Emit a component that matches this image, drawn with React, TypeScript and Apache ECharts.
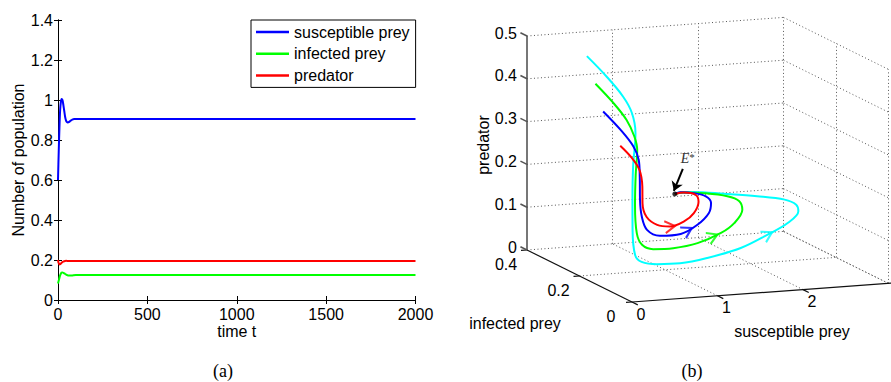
import React, { useEffect, useRef } from "react";
import * as echarts from "echarts";

const W = 891;
const H = 382;
const FONT = "'Liberation Sans', Arial, Helvetica, sans-serif";
const SERIF = "'Liberation Serif', 'Times New Roman', serif";

// ---------- Panel (a): time series ----------
const T_SUS = [0, 4, 8, 12, 16, 20, 25, 30, 35, 40, 45, 50, 55, 60, 70, 80, 90, 100, 150, 2000];
const SUS = [0.6, 0.74, 0.86, 0.95, 0.99, 1.005, 1.0, 0.975, 0.945, 0.915, 0.897, 0.89, 0.888, 0.889, 0.896, 0.902, 0.905, 0.905, 0.905, 0.905];
const T_INF = [0, 5, 10, 15, 20, 25, 30, 40, 50, 60, 70, 80, 100, 2000];
const INF = [0.083, 0.1, 0.118, 0.13, 0.137, 0.138, 0.136, 0.13, 0.125, 0.122, 0.122, 0.123, 0.125, 0.125];
const T_PRED = [0, 3, 8, 12, 18, 25, 35, 45, 60, 2000];
const PRED = [0.2, 0.186, 0.178, 0.179, 0.184, 0.19, 0.194, 0.196, 0.195, 0.195];
const NAMES_A = ["susceptible prey", "infected prey", "predator"];
const COLORS_A = ["#0000ff", "#00ff00", "#ff0000"];
const X_A = { min: 0, max: 2000, interval: 500 };
const Y_A = { min: 0, max: 1.4, interval: 0.2 };

// ---------- Panel (b): 3D phase portrait (S, I, P) ----------
const S_RANGE = [0, 3];
const I_RANGE = [0, 0.4];
const P_RANGE = [0, 0.5];
const S_TICKS = [0, 1, 2];
const I_TICKS = [0, 0.2, 0.4];
const P_TICKS = [0, 0.1, 0.2, 0.3, 0.4, 0.5];
const S_GRID = [1, 2, 3];
const I_GRID = [0, 0.2];

const E_STAR = [0.9, 0.13, 0.2];

const CYAN_S = [0.24, 0.38, 0.48, 0.49, 0.44, 0.32, 0.22, 0.16, 0.16, 0.22, 0.4, 0.67, 1.0, 1.41, 1.74, 1.99, 2.13, 2.12, 2.0, 1.71, 1.35, 1.05, 0.92, 0.9];
const CYAN_I = [0.25, 0.22, 0.19, 0.16, 0.13, 0.1, 0.07, 0.05, 0.04, 0.035, 0.035, 0.035, 0.04, 0.045, 0.05, 0.055, 0.06, 0.065, 0.07, 0.08, 0.09, 0.105, 0.115, 0.13];
const CYAN_P = [0.495, 0.454, 0.415, 0.386, 0.349, 0.281, 0.214, 0.151, 0.095, 0.08, 0.072, 0.07, 0.076, 0.092, 0.117, 0.139, 0.163, 0.177, 0.189, 0.198, 0.206, 0.21, 0.208, 0.2];

const GREEN_S = [0.34, 0.46, 0.52, 0.52, 0.46, 0.35, 0.25, 0.21, 0.24, 0.37, 0.62, 0.92, 1.21, 1.38, 1.49, 1.47, 1.36, 1.13, 0.94, 0.9];
const GREEN_I = [0.25, 0.22, 0.19, 0.16, 0.13, 0.1, 0.07, 0.05, 0.04, 0.04, 0.045, 0.05, 0.055, 0.06, 0.065, 0.07, 0.08, 0.095, 0.11, 0.13];
const GREEN_P = [0.429, 0.391, 0.36, 0.33, 0.309, 0.261, 0.202, 0.142, 0.118, 0.106, 0.103, 0.109, 0.127, 0.146, 0.174, 0.193, 0.203, 0.209, 0.209, 0.2];

const BLUE_S = [0.43, 0.54, 0.6, 0.57, 0.49, 0.37, 0.33, 0.36, 0.51, 0.77, 0.98, 1.13, 1.17, 1.14, 1.03, 0.92, 0.9];
const BLUE_I = [0.25, 0.22, 0.19, 0.16, 0.13, 0.09, 0.07, 0.06, 0.06, 0.065, 0.07, 0.075, 0.08, 0.09, 0.1, 0.115, 0.13];
const BLUE_P = [0.363, 0.328, 0.297, 0.275, 0.246, 0.206, 0.173, 0.145, 0.129, 0.128, 0.145, 0.169, 0.19, 0.203, 0.209, 0.208, 0.2];

const RED_S = [0.63, 0.645, 0.61, 0.52, 0.43, 0.43, 0.54, 0.69, 0.87, 1.0, 1.07, 1.05, 0.96, 0.9];
const RED_I = [0.25, 0.21, 0.17, 0.13, 0.1, 0.085, 0.08, 0.08, 0.085, 0.09, 0.095, 0.1, 0.115, 0.13];
const RED_P = [0.28, 0.263, 0.248, 0.223, 0.194, 0.167, 0.148, 0.142, 0.15, 0.166, 0.19, 0.205, 0.207, 0.2];

// position (along the trajectory, in point indices) of each direction arrow
const ARROW_AT = { cyan: 14, green: 11.65, blue: 9.4, red: 7 };

// ---------- layout of the 3D view (screen vectors of the axes) ----------
const ORIGIN = [632, 302];
const S_VEC = [85.5, -6.2];
const I_VEC = [-262.5, -130];
const P_VEC = [0, -428];

const proj = (s: number, i: number, p: number): [number, number] => [
  ORIGIN[0] + s * S_VEC[0] + i * I_VEC[0] + p * P_VEC[0],
  ORIGIN[1] + s * S_VEC[1] + i * I_VEC[1] + p * P_VEC[1],
];

type P3 = [number, number, number];

function buildOption() {
  const Smax = S_RANGE[1];
  const Imax = I_RANGE[1];
  const Pmax = P_RANGE[1];

  const dotted: P3[][] = [];
  P_TICKS.forEach((p) => {
    dotted.push([[0, Imax, p], [Smax, Imax, p]]);
    dotted.push([[Smax, Imax, p], [Smax, 0, p]]);
  });
  S_GRID.forEach((s) => {
    dotted.push([[s, Imax, 0], [s, Imax, Pmax]]);
    dotted.push([[s, 0, 0], [s, Imax, 0]]);
  });
  I_GRID.forEach((i) => dotted.push([[Smax, i, 0], [Smax, i, Pmax]]));
  I_GRID.filter((i) => i > 0).forEach((i) => dotted.push([[0, i, 0], [Smax, i, 0]]));

  const solid: P3[][] = [
    [[0, 0, 0], [0, Imax, 0]],
    [[0, 0, 0], [Smax + 0.03, 0, 0]],
  ];
  I_TICKS.forEach((i) => solid.push([[0, i, 0], [-0.07, i, 0]]));
  S_TICKS.forEach((s) => solid.push([[s, 0, 0], [s, -0.022, 0]]));
  const zAxis: P3[][] = [[[0, Imax, 0], [0, Imax, Pmax]]];
  P_TICKS.forEach((p) => zAxis.push([[0, Imax, p], [0, Imax + 0.025, p]]));

  const toLines = (segs: P3[][]) =>
    segs.map((seg) => ({ coords: seg.map((q) => proj(q[0], q[1], q[2])) }));

  const trajs = [
    { name: "traj cyan", color: "#00ffff", S: CYAN_S, I: CYAN_I, P: CYAN_P, arrow: ARROW_AT.cyan },
    { name: "traj green", color: "#00ff00", S: GREEN_S, I: GREEN_I, P: GREEN_P, arrow: ARROW_AT.green },
    { name: "traj blue", color: "#0000ff", S: BLUE_S, I: BLUE_I, P: BLUE_P, arrow: ARROW_AT.blue },
    { name: "traj red", color: "#ff0000", S: RED_S, I: RED_I, P: RED_P, arrow: ARROW_AT.red },
  ];

  const trajSeries: any[] = [];
  const arrowData: any[] = [];
  trajs.forEach((t) => {
    const pts = t.S.map((s, k) => proj(s, t.I[k], t.P[k]));
    trajSeries.push({
      name: t.name,
      type: "line",
      xAxisIndex: 2,
      yAxisIndex: 2,
      data: pts,
      symbol: "none",
      smooth: 0.35,
      lineStyle: { color: t.color, width: 2 },
      silent: true,
      z: 3,
    });
    const i0 = Math.floor(t.arrow);
    const f = t.arrow - i0;
    const a = pts[i0];
    const b = pts[Math.min(i0 + 1, pts.length - 1)];
    const pos = [a[0] + (b[0] - a[0]) * f, a[1] + (b[1] - a[1]) * f];
    const from = f > 0 ? a : pts[Math.max(i0 - 1, 0)];
    const dx = b[0] - from[0];
    const dy = b[1] - from[1];
    const ang = (-Math.atan2(dy, dx) * 180) / Math.PI;
    arrowData.push({
      value: pos,
      symbolRotate: ang,
      itemStyle: { color: "rgba(0,0,0,0)", borderColor: t.color, borderWidth: 2 },
    });
  });

  const E = proj(E_STAR[0], E_STAR[1], E_STAR[2]);

  const graphics: any[] = [];
  const txt = (text: string, x: number, y: number, align: string, extra: any = {}) =>
    graphics.push({
      type: "text",
      x,
      y,
      silent: true,
      style: {
        text,
        fontSize: 16,
        fontFamily: FONT,
        fill: "#000",
        align,
        verticalAlign: "middle",
        ...extra,
      },
    });

  P_TICKS.forEach((p) => {
    const q = proj(0, Imax, p);
    txt(String(p), q[0] - 10, q[1] - 3, "right");
  });
  I_TICKS.forEach((i) => {
    const q = proj(0, i, 0);
    txt(String(i), q[0] - 21, q[1] + 14, "center");
  });
  S_TICKS.forEach((s) => {
    const q = proj(s, 0, 0);
    txt(String(s), q[0] + 9, q[1] + 12, "center");
  });
  txt("infected prey", 515, 323, "center");
  txt("susceptible prey", 792, 331, "center");
  graphics.push({
    type: "text",
    x: 483,
    y: 145,
    rotation: Math.PI / 2,
    silent: true,
    style: { text: "predator", fontSize: 16, fontFamily: FONT, fill: "#000", align: "center", verticalAlign: "middle" },
  });
  graphics.push({
    type: "text",
    x: E[0] + 6,
    y: E[1] - 35,
    silent: true,
    style: {
      text: "{e|E}{s|*}",
      align: "left",
      verticalAlign: "middle",
      rich: {
        e: { fontSize: 14, fontStyle: "italic", fontFamily: SERIF, fill: "#333" },
        s: { fontSize: 11, fontFamily: SERIF, fill: "#333", verticalAlign: "top", padding: [0, 0, 4, 0] },
      },
    },
  });
  txt("(a)", 223, 371, "center", { fontFamily: SERIF, fontSize: 18 });
  txt("(b)", 692, 371, "center", { fontFamily: SERIF, fontSize: 18 });

  const axisCommon = {
    axisLine: { show: true, lineStyle: { color: "#000", width: 1 } },
    axisTick: { show: true, inside: true, length: 4, lineStyle: { color: "#000" } },
    splitLine: { show: false },
  };
  const labelStyle = { color: "#000", fontSize: 16, fontFamily: FONT };

  return {
    animation: false,
    backgroundColor: "#fff",
    grid: [
      { left: 58, top: 20, width: 357.5, height: 280, outerBoundsMode: "none" },
      { left: 0, top: 0, width: W, height: H, outerBoundsMode: "none" },
    ],
    xAxis: [
      {
        gridIndex: 0,
        type: "value",
        ...X_A,
        ...axisCommon,
        axisLabel: { ...labelStyle, margin: 6, formatter: (v: number) => String(v) },
        name: "time t",
        nameLocation: "middle",
        nameGap: 23,
        nameMoveOverlap: false,
        nameTextStyle: labelStyle,
      },
      {
        gridIndex: 0,
        type: "value",
        position: "top",
        ...X_A,
        ...axisCommon,
        axisLabel: { show: false },
      },
      { gridIndex: 1, type: "value", min: 0, max: W, show: false },
    ],
    yAxis: [
      {
        gridIndex: 0,
        type: "value",
        ...Y_A,
        ...axisCommon,
        axisLabel: { ...labelStyle, margin: 5, formatter: (v: number) => String(v) },
        name: "Number of population",
        nameLocation: "middle",
        nameGap: 32,
        nameMoveOverlap: false,
        nameTextStyle: labelStyle,
      },
      {
        gridIndex: 0,
        type: "value",
        position: "right",
        ...Y_A,
        ...axisCommon,
        axisLabel: { show: false },
      },
      { gridIndex: 1, type: "value", min: 0, max: H, inverse: true, show: false },
    ],
    legend: {
      data: NAMES_A,
      orient: "vertical",
      left: 251,
      top: 20,
      icon: "rect",
      itemWidth: 33,
      itemHeight: 2.5,
      itemGap: 5.7,
      padding: [4, 6, 4, 5],
      borderColor: "#000",
      borderWidth: 1,
      borderRadius: 0,
      backgroundColor: "#fff",
      selectedMode: false,
      textStyle: { color: "#000", fontSize: 16, fontFamily: FONT, lineHeight: 16 },
    },
    graphic: graphics,
    series: [
      {
        name: NAMES_A[0],
        type: "line",
        xAxisIndex: 0,
        yAxisIndex: 0,
        data: T_SUS.map((t, k) => [t, SUS[k]]),
        symbol: "none",
        smooth: 0.3,
        lineStyle: { color: COLORS_A[0], width: 2 },
        itemStyle: { color: COLORS_A[0] },
        z: 3,
      },
      {
        name: NAMES_A[1],
        type: "line",
        xAxisIndex: 0,
        yAxisIndex: 0,
        data: T_INF.map((t, k) => [t, INF[k]]),
        symbol: "none",
        smooth: 0.3,
        lineStyle: { color: COLORS_A[1], width: 2 },
        itemStyle: { color: COLORS_A[1] },
        z: 3,
      },
      {
        name: NAMES_A[2],
        type: "line",
        xAxisIndex: 0,
        yAxisIndex: 0,
        data: T_PRED.map((t, k) => [t, PRED[k]]),
        symbol: "none",
        smooth: 0.3,
        lineStyle: { color: COLORS_A[2], width: 2 },
        itemStyle: { color: COLORS_A[2] },
        z: 3,
      },
      {
        name: "grid3d",
        type: "lines",
        coordinateSystem: "cartesian2d",
        xAxisIndex: 2,
        yAxisIndex: 2,
        data: toLines(dotted),
        lineStyle: { color: "#555", width: 1, type: [1, 2.5], opacity: 1 },
        silent: true,
        z: 1,
      },
      {
        name: "axes3d",
        type: "lines",
        coordinateSystem: "cartesian2d",
        xAxisIndex: 2,
        yAxisIndex: 2,
        data: toLines(solid),
        lineStyle: { color: "#111", width: 1.2, opacity: 1 },
        silent: true,
        z: 2,
      },
      {
        name: "zaxis3d",
        type: "lines",
        coordinateSystem: "cartesian2d",
        xAxisIndex: 2,
        yAxisIndex: 2,
        data: toLines(zAxis),
        lineStyle: { color: "#555", width: 1.6, opacity: 1 },
        silent: true,
        z: 2,
      },
      ...trajSeries,
      {
        name: "arrows",
        type: "scatter",
        xAxisIndex: 2,
        yAxisIndex: 2,
        data: arrowData,
        symbol: "path://M0,0L10,6L0,12",
        symbolSize: [10, 12],
        silent: true,
        z: 4,
      },
      {
        name: "E*",
        type: "scatter",
        xAxisIndex: 2,
        yAxisIndex: 2,
        data: [E],
        symbol: "circle",
        symbolSize: 5,
        itemStyle: { color: "#000" },
        silent: true,
        z: 5,
      },
      {
        name: "E* pointer",
        type: "lines",
        coordinateSystem: "cartesian2d",
        xAxisIndex: 2,
        yAxisIndex: 2,
        data: [{ coords: [[E[0] + 8, E[1] - 25], [E[0] - 1, E[1] - 3]] }],
        symbol: ["none", "arrow"],
        symbolSize: 9,
        lineStyle: { color: "#000", width: 2, opacity: 1 },
        silent: true,
        z: 5,
      },
    ],
  };
}

export default function App() {
  const ref = useRef<HTMLDivElement>(null);
  useEffect(() => {
    if (!ref.current) return;
    const chart = echarts.init(ref.current, null, { renderer: "svg" });
    chart.setOption(buildOption() as any);
    return () => chart.dispose();
  }, []);
  return (
    <div
      ref={ref}
      style={{ position: "absolute", left: 0, top: 0, width: W, height: H, background: "#fff" }}
    />
  );
}
